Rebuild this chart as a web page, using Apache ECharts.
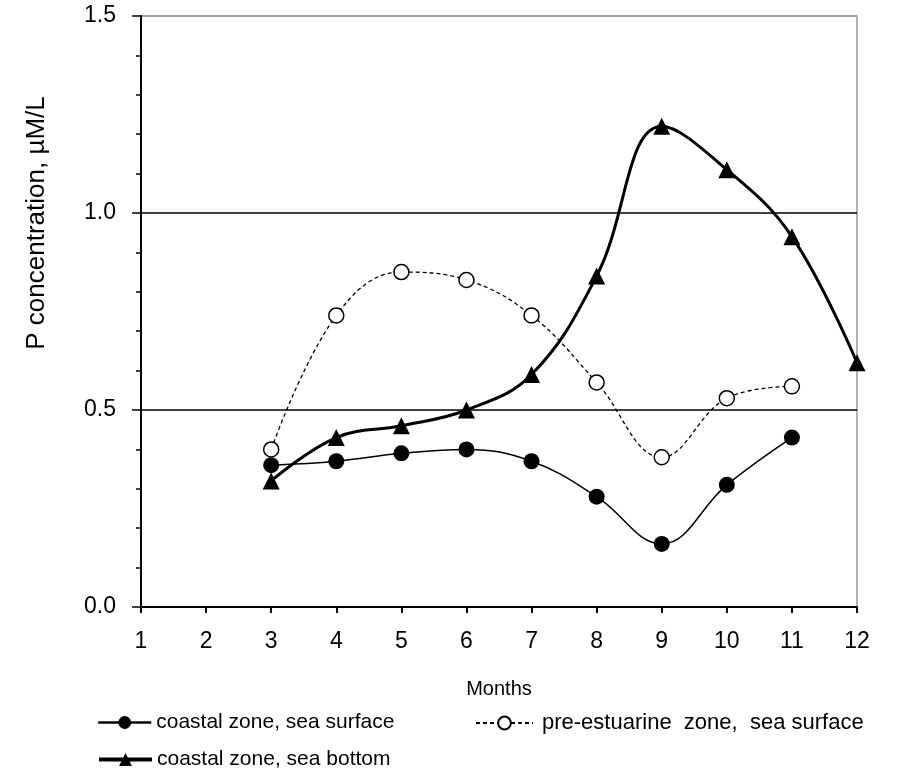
<!DOCTYPE html>
<html>
<head>
<meta charset="utf-8">
<script src="https://cdn.jsdelivr.net/npm/echarts@6/dist/echarts.min.js"></script>
<style>
html,body{margin:0;padding:0;background:#fff;}
#chart{width:897px;height:776px;}
</style>
</head>
<body>
<div id="chart"></div>
<script>
const monthsSurface = [3, 4, 5, 6, 7, 8, 9, 10, 11];
const monthsBottom = [3, 4, 5, 6, 7, 8, 9, 10, 11, 12];
const coastalSurface = [0.36, 0.37, 0.39, 0.40, 0.37, 0.28, 0.16, 0.31, 0.43];
const preEstuarineSurface = [0.40, 0.74, 0.85, 0.83, 0.74, 0.57, 0.38, 0.53, 0.56];
const coastalBottom = [0.32, 0.43, 0.46, 0.50, 0.59, 0.84, 1.22, 1.11, 0.94, 0.62];
const seriesNames = ['coastal zone, sea surface', 'pre-estuarine zone, sea surface', 'coastal zone, sea bottom'];
const yTitle = 'P concentration, \u00b5M/L';
const xTitle = 'Months';

const pairs = (xs, ys) => xs.map((x, i) => [x, ys[i]]);
const FONT = '"Liberation Sans", Arial, sans-serif';

const legendCommon = {
  padding: 0, itemHeight: 16,
  textStyle: { fontFamily: FONT, fontSize: 21, color: '#000' }
};

const chart = echarts.init(document.getElementById('chart'));
chart.setOption({
  animation: false,
  backgroundColor: '#fff',
  textStyle: { fontFamily: FONT, color: '#000' },
  grid: { left: 141, right: 40, top: 16, bottom: 169, show: true, borderColor: '#999', borderWidth: 1.5 },
  xAxis: {
    type: 'value', min: 1, max: 12, interval: 1,
    name: xTitle, nameLocation: 'middle', nameGap: 72,
    nameTextStyle: { fontFamily: FONT, fontSize: 20, color: '#000' },
    axisLine: { lineStyle: { color: '#000', width: 2 } },
    axisTick: { show: true, length: 6, lineStyle: { color: '#000', width: 2 } },
    axisLabel: { fontFamily: FONT, fontSize: 23, color: '#000', margin: 23 },
    splitLine: { show: false }
  },
  yAxis: {
    type: 'value', min: 0, max: 1.5, interval: 0.5,
    axisLine: { show: true, lineStyle: { color: '#000', width: 2 } },
    axisTick: { show: true, length: 9, lineStyle: { color: '#000', width: 1.5 } },
    minorTick: { show: true, splitNumber: 5, length: 5, lineStyle: { color: '#000', width: 1.5 } },
    axisLabel: { fontFamily: FONT, fontSize: 23, color: '#000', margin: 25, formatter: v => v.toFixed(1) },
    splitLine: { show: true, lineStyle: { color: ['#000', '#000', '#000', '#999'], width: 1.5 } }
  },
  graphic: [{
    type: 'text',
    x: 37, y: 223,
    rotation: Math.PI / 2,
    style: { text: yTitle, font: '26px ' + FONT, fill: '#000', align: 'center', verticalAlign: 'middle' }
  }],
  legend: [
    Object.assign({ data: [seriesNames[0]], left: 97, top: 712, itemWidth: 53,
      lineStyle: { width: 2.5 } }, legendCommon),
    Object.assign({ data: [seriesNames[1]], left: 475, top: 712, itemWidth: 57 }, legendCommon, {
      formatter: n => n.replace('estuarine ', 'estuarine  ').replace('zone, ', 'zone,  '),
      textStyle: { fontFamily: FONT, fontSize: 22, color: '#000', padding: [0, 0, 0, 4] }
    }),
    Object.assign({ data: [seriesNames[2]], left: 97, top: 749, itemWidth: 53,
      lineStyle: { width: 4 } }, legendCommon)
  ],
  series: [
    {
      name: seriesNames[0], type: 'line', smooth: 0.4,
      data: pairs(monthsSurface, coastalSurface),
      symbol: 'circle', symbolSize: 16,
      lineStyle: { color: '#000', width: 1.5 },
      itemStyle: { color: '#000', borderColor: '#000', borderWidth: 0 },
      z: 3
    },
    {
      name: seriesNames[1], type: 'line', smooth: 0.4,
      data: pairs(monthsSurface, preEstuarineSurface),
      symbol: 'circle', symbolSize: 15,
      lineStyle: { color: '#000', width: 1.3, type: [4, 3] },
      itemStyle: { color: '#fff', borderColor: '#000', borderWidth: 1.5 },
      z: 2
    },
    {
      name: seriesNames[2], type: 'line', smooth: 0.4,
      data: pairs(monthsBottom, coastalBottom),
      symbol: 'triangle', symbolSize: 17,
      lineStyle: { color: '#000', width: 3 },
      itemStyle: { color: '#000', borderWidth: 0 },
      z: 4
    }
  ]
});
</script>
</body>
</html>
